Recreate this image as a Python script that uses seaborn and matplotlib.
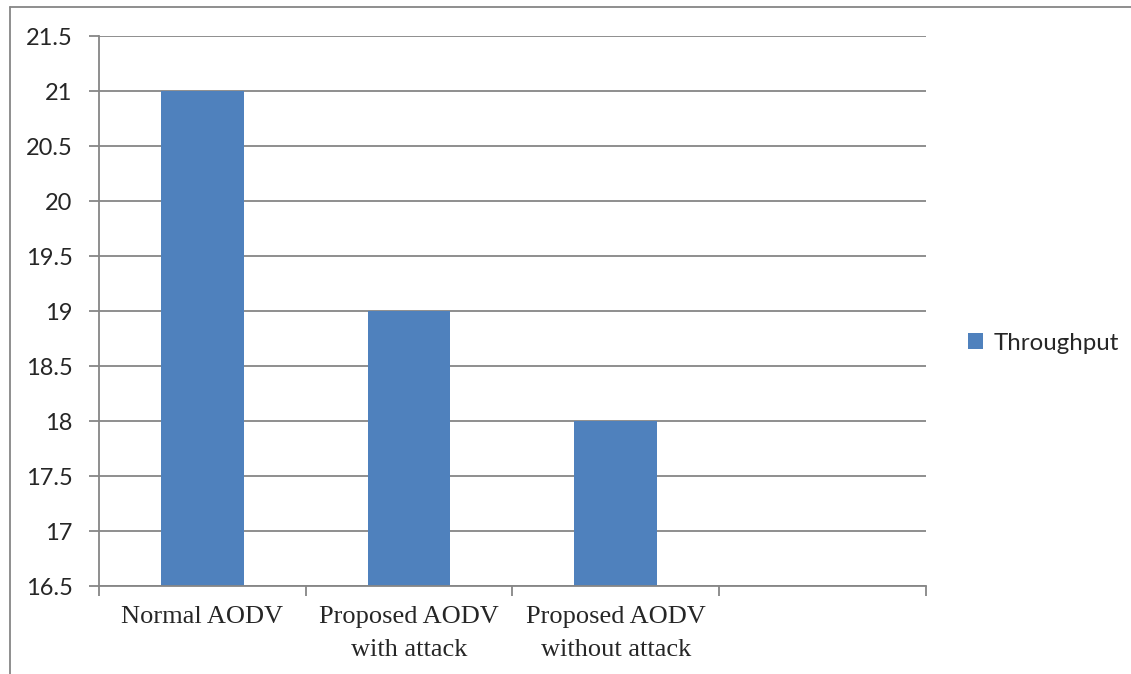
import seaborn as sns
import matplotlib.pyplot as plt
import pandas as pd

categories = ["Normal AODV", "Proposed AODV\nwith attack", "Proposed AODV\nwithout attack"]
throughput = [21, 19, 18]
y_ticks = [16.5, 17, 17.5, 18, 18.5, 19, 19.5, 20, 20.5, 21, 21.5]

df = pd.DataFrame({"scheme": categories, "Throughput": throughput})

sns.set_style("white")
plt.rcParams['font.family'] = ['Lato', 'DejaVu Sans']

fig = plt.figure(figsize=(11.31, 6.74), dpi=100)
ax = fig.add_axes([0.0875, 0.13, 0.731, 0.816])

sns.barplot(data=df, x="scheme", y="Throughput", color="#4F81BD", width=0.4,
            saturation=1, linewidth=0, label="Throughput", ax=ax)

grid_c = "#868686"
ax.set_xlim(-0.5, 3.5)
ax.set_ylim(16.5, 21.5)
ax.set_yticks(y_ticks)
ax.set_yticklabels([f"{v:g}" for v in y_ticks], fontsize=17)
ax.yaxis.grid(True, color=grid_c, linewidth=1.3)
ax.set_axisbelow(True)
ax.tick_params(axis="y", length=7, width=1.3, color=grid_c, pad=12, left=True)

ax.set_xticks([0, 1, 2])
ax.set_xticklabels(categories, fontsize=19, family=['Liberation Serif'], linespacing=1.65)
ax.set_xticks([-0.5, 0.5, 1.5, 2.5, 3.5], minor=True)
ax.tick_params(axis="x", which="major", length=0, pad=14)
ax.tick_params(axis="x", which="minor", length=7, width=1.3, color=grid_c, bottom=True)

for s in ["top", "right"]:
    ax.spines[s].set_visible(False)
for s in ["left", "bottom"]:
    ax.spines[s].set_color(grid_c)
    ax.spines[s].set_linewidth(1.3)

ax.set_xlabel("")
ax.set_ylabel("")

ax.legend(loc="center left", bbox_to_anchor=(0.856, 0.491), bbox_transform=fig.transFigure,
          frameon=False, fontsize=17.3, handlelength=0.62, handleheight=0.62,
          handletextpad=0.45, borderpad=0, borderaxespad=0)

# outer chart frame
fig.add_artist(plt.Line2D([0.009, 0.009], [0, 0.99], transform=fig.transFigure,
                          color=grid_c, linewidth=1.3))
fig.add_artist(plt.Line2D([0.009, 1.0], [0.99, 0.99], transform=fig.transFigure,
                          color=grid_c, linewidth=1.3))

fig.savefig("out.png", dpi=100)
